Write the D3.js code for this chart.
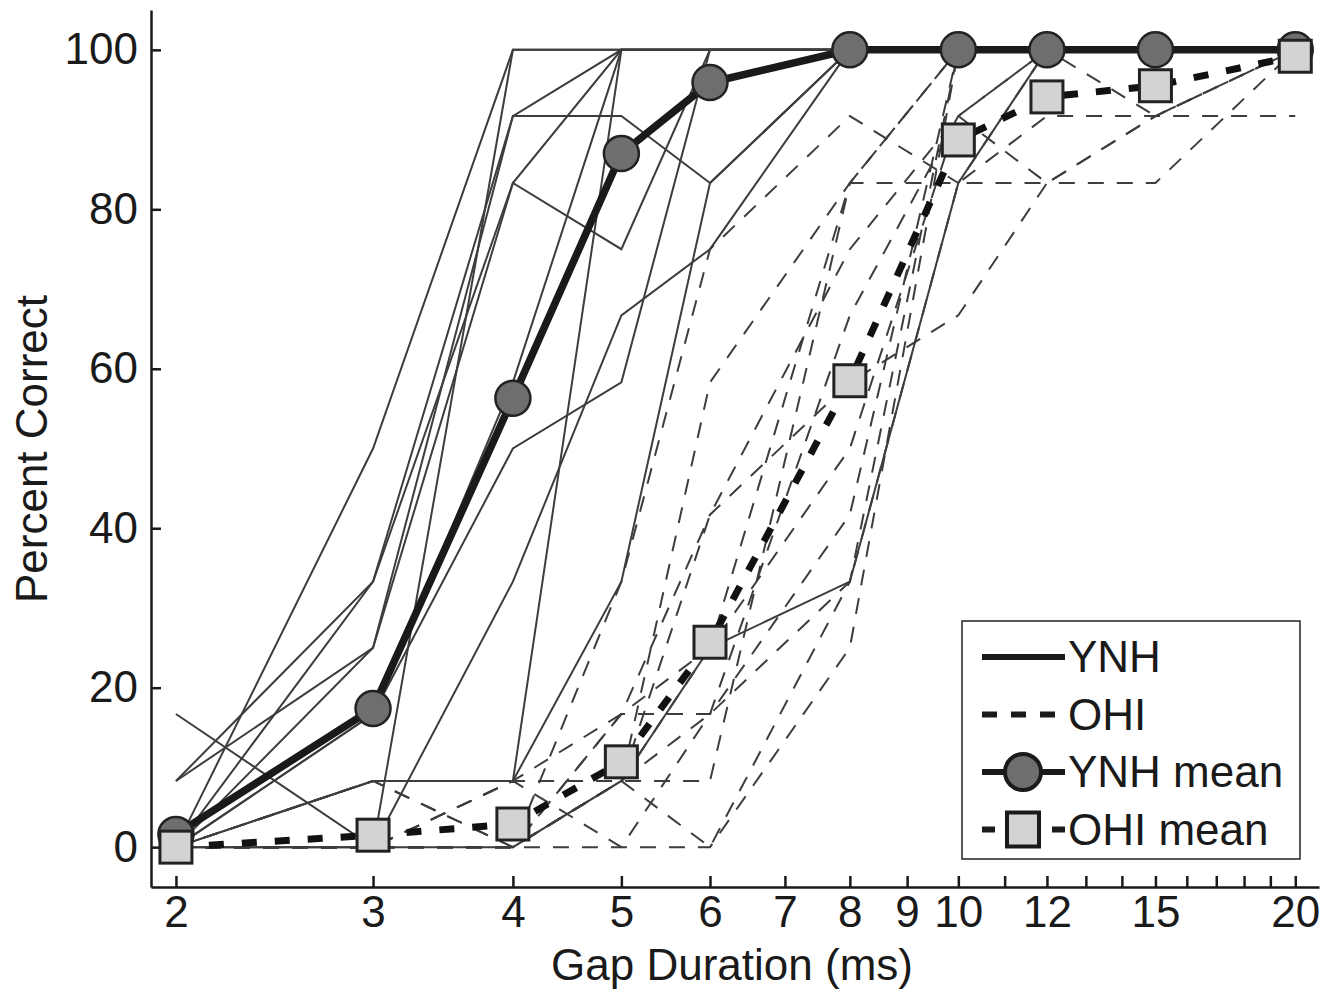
<!DOCTYPE html>
<html>
<head>
<meta charset="utf-8">
<script src="https://cdn.jsdelivr.net/npm/d3@7"></script>
<style>
  body { margin: 0; background: #fff; }
  svg { display: block; background: #fff; font-family: "Liberation Sans", Arial, sans-serif; }
  .axis path, .axis line { stroke: #1a1a1a; stroke-width: 2.5; }
  .axis text { font-size: 44px; fill: #1a1a1a; font-family: "Liberation Sans", Arial, sans-serif; }
  .subj { fill: none; stroke: #3d3d3d; stroke-width: 2; }
</style>
</head>
<body>
<svg id="chart"></svg>
<script>
// gap durations (ms) tested
const gaps = [2, 3, 4, 5, 6, 8, 10, 12, 15, 20];

// individual listeners, percent correct (12 trials per gap)
const ynhSubjects = [
  [16.7, 0, 100, 100, 100, 100, 100, 100, 100, 100],
  [8.3, 25, 91.7, 100, 100, 100, 100, 100, 100, 100],
  [8.3, 33.3, 83.3, 75, 100, 100, 100, 100, 100, 100],
  [0, 50, 100, 100, 100, 100, 100, 100, 100, 100],
  [0, 16.7, 58.3, 100, 100, 100, 100, 100, 100, 100],
  [0, 8.3, 8.3, 100, 100, 100, 100, 100, 100, 100],
  [0, 33.3, 91.7, 91.7, 83.3, 100, 100, 100, 100, 100],
  [0, 8.3, 8.3, 33.3, 83.3, 100, 100, 100, 100, 100],
  [0, 0, 33.3, 66.7, 75, 100, 100, 100, 100, 100],
  [0, 25, 83.3, 100, 100, 100, 100, 100, 100, 100],
  [0, 16.7, 50, 58.3, 100, 100, 100, 100, 100, 100],
  [0, 0, 0, 8.3, 25, 33.3, 83.3, 100, 100, 100]
];

const ohiSubjects = [
  [0, 0, 0, 0, 0, 25, 100, 100, 100, 100],
  [0, 0, 0, 8.3, 0, 33.3, 100, 100, 100, 100],
  [0, 8.3, 0, 16.7, 16.7, 41.7, 100, 100, 91.7, 100],
  [0, 0, 8.3, 8.3, 8.3, 83.3, 100, 100, 100, 100],
  [0, 0, 0, 16.7, 41.7, 58.3, 66.7, 83.3, 83.3, 100],
  [0, 0, 8.3, 0, 16.7, 66.7, 91.7, 100, 100, 100],
  [0, 8.3, 0, 8.3, 58.3, 83.3, 100, 100, 100, 100],
  [0, 0, 8.3, 16.7, 25, 83.3, 83.3, 91.7, 91.7, 91.7],
  [0, 0, 0, 33.3, 75, 91.7, 83.3, 100, 100, 100],
  [0, 0, 0, 8.3, 25, 50, 91.7, 83.3, 91.7, 100],
  [0, 0, 0, 8.3, 41.7, 75, 91.7, 100, 100, 100],
  [0, 0, 0, 8.3, 16.7, 33.3, 83.3, 83.3, 91.7, 100]
];

// group means
const ynhMean = [1.6, 17.4, 56.3, 87.0, 95.9, 100, 100, 100, 100, 100];
const ohiMean = [0, 1.5, 2.9, 10.7, 25.7, 58.5, 88.7, 94.1, 95.5, 99.2];

// axis ticks
const xTickMarks = [2, 3, 4, 5, 6, 7, 8, 9, 10, 11, 12, 13, 14, 15, 16, 17, 18, 19, 20];
const xTickLabels = [2, 3, 4, 5, 6, 7, 8, 9, 10, 12, 15, 20];
const yTicks = [0, 20, 40, 60, 80, 100];
const legendLabels = ['YNH', 'OHI', 'YNH mean', 'OHI mean'];

(function() {
  'use strict';
  const W = 1335, H = 992;

  const svg = d3.select('#chart')
    .attr('width', W)
    .attr('height', H);

  const x = d3.scaleLog()
    .domain([1.9, 21])
    .range([151, 1319]);

  const y = d3.scaleLinear()
    .domain([-5, 105])
    .range([887, 10]);

  const line = d3.line()
    .x(d => x(d[0]))
    .y(d => y(d[1]));

  // axes, ticks pointing inward
  svg.append('g')
    .attr('class', 'axis')
    .attr('transform', `translate(${x.range()[0]},0)`)
    .call(d3.axisLeft(y).tickValues(yTicks).tickSizeInner(-10).tickSizeOuter(0).tickPadding(13));

  svg.append('g')
    .attr('class', 'axis')
    .attr('transform', `translate(0,${y.range()[0]})`)
    .call(d3.axisBottom(x)
      .tickValues(xTickMarks)
      .tickFormat(d => xTickLabels.includes(d) ? d : '')
      .tickSizeInner(-11).tickSizeOuter(0).tickPadding(9));

  svg.selectAll('.axis .domain').attr('stroke-width', 3);

  svg.append('text')
    .attr('x', 732)
    .attr('y', 980)
    .attr('text-anchor', 'middle')
    .attr('font-size', 44)
    .attr('fill', '#1a1a1a')
    .text('Gap Duration (ms)');

  svg.append('text')
    .attr('transform', 'translate(47,449) rotate(-90)')
    .attr('text-anchor', 'middle')
    .attr('font-size', 44)
    .attr('fill', '#1a1a1a')
    .text('Percent Correct');

  // individual listeners
  svg.append('g')
    .selectAll('path')
    .data(ynhSubjects)
    .join('path')
      .attr('class', 'subj')
      .attr('d', d => line(d3.zip(gaps, d)));

  svg.append('g')
    .selectAll('path')
    .data(ohiSubjects)
    .join('path')
      .attr('class', 'subj')
      .attr('stroke-dasharray', '16,13')
      .attr('d', d => line(d3.zip(gaps, d)));

  // group means
  svg.append('path')
    .attr('d', line(d3.zip(gaps, ynhMean)))
    .attr('fill', 'none')
    .attr('stroke', '#1a1a1a')
    .attr('stroke-width', 7.5);

  svg.append('path')
    .attr('d', line(d3.zip(gaps, ohiMean)))
    .attr('fill', 'none')
    .attr('stroke', '#111')
    .attr('stroke-width', 7)
    .attr('stroke-dasharray', '15,18');

  svg.append('g')
    .selectAll('circle')
    .data(d3.zip(gaps, ynhMean))
    .join('circle')
      .attr('cx', d => x(d[0]))
      .attr('cy', d => y(d[1]))
      .attr('r', 17.5)
      .attr('fill', '#6e6e6e')
      .attr('stroke', '#222')
      .attr('stroke-width', 2.5);

  svg.append('g')
    .selectAll('rect')
    .data(d3.zip(gaps, ohiMean))
    .join('rect')
      .attr('x', d => x(d[0]) - 16)
      .attr('y', d => y(d[1]) - 16)
      .attr('width', 32)
      .attr('height', 32)
      .attr('fill', '#d2d3d5')
      .attr('stroke', '#222')
      .attr('stroke-width', 3);

  // legend
  const legend = svg.append('g').attr('transform', 'translate(962,621)');
  legend.append('rect')
    .attr('width', 338)
    .attr('height', 238)
    .attr('fill', '#fff')
    .attr('stroke', '#222')
    .attr('stroke-width', 1.5);

  const rowY = i => 36 + i * 57.5;
  const items = legend.selectAll('.item')
    .data(legendLabels)
    .join('g')
      .attr('class', 'item')
      .attr('transform', (d, i) => `translate(0,${rowY(i)})`);

  items.append('line')
    .attr('x1', 20).attr('x2', 103)
    .attr('stroke', '#1a1a1a')
    .attr('stroke-width', 6)
    .attr('stroke-dasharray', (d, i) => i === 1 ? '15,14' : i === 3 ? '13,57,13' : null);

  items.filter((d, i) => i === 2).append('circle')
    .attr('cx', 61).attr('r', 18)
    .attr('fill', '#6e6e6e')
    .attr('stroke', '#1a1a1a')
    .attr('stroke-width', 4);

  items.filter((d, i) => i === 3).append('rect')
    .attr('x', 45).attr('y', -17)
    .attr('width', 32).attr('height', 34)
    .attr('fill', '#d2d3d5')
    .attr('stroke', '#1a1a1a')
    .attr('stroke-width', 4);

  items.append('text')
    .attr('x', 106)
    .attr('y', 15)
    .attr('font-size', 44)
    .attr('fill', '#1a1a1a')
    .text(d => d);
})();
</script>
</body>
</html>
